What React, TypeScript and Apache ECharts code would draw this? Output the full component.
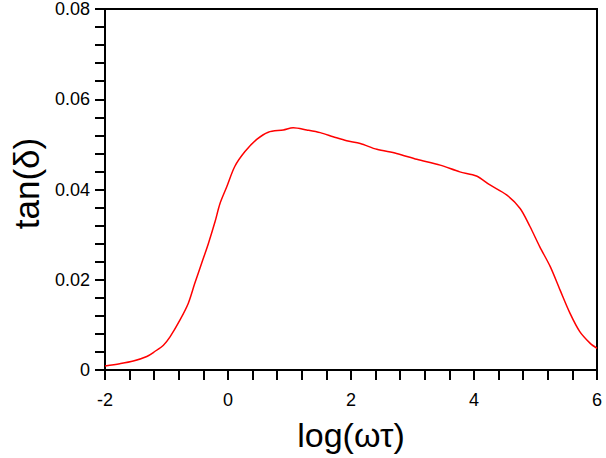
import React, { useEffect, useRef } from "react";
import * as echarts from "echarts";

const logOmegaTau = [
  -2, -1.76, -1.54, -1.32, -1.19, -1.05, -0.94, -0.78, -0.645, -0.54, -0.43, -0.32, -0.21, -0.13,
  -0.02, 0.11, 0.276, 0.467, 0.655, 0.9, 1.06, 1.28, 1.5, 1.71, 1.93, 2.15, 2.42, 2.74, 3.07, 3.45,
  3.77, 4.04, 4.26, 4.53, 4.75, 4.91, 5.07, 5.24, 5.4, 5.56, 5.72, 5.89, 6.0,
];
const tanDelta = [
  0.0009, 0.0014, 0.002, 0.003, 0.0041, 0.0055, 0.0074, 0.0111, 0.0148, 0.0192, 0.0236, 0.028, 0.0329,
  0.0369, 0.0406, 0.0451, 0.0484, 0.0511, 0.0527, 0.0532, 0.0537, 0.0532, 0.0526, 0.0517, 0.0508,
  0.0502, 0.0489, 0.048, 0.0467, 0.0454, 0.0439, 0.043, 0.041, 0.0388, 0.0358, 0.0318, 0.0273, 0.0229,
  0.0177, 0.0126, 0.0085, 0.0059, 0.0048,
];
const xTickRange = { min: -2, max: 6, interval: 2 };
const yTickRange = { min: 0, max: 0.08, interval: 0.02 };
const xName = "log(ωτ)";
const yName = "tan(δ)";

export default function App() {
  const ref = useRef<HTMLDivElement>(null);
  useEffect(() => {
    if (!ref.current) return;
    const chart = echarts.init(ref.current, undefined, { renderer: "svg" });
    const font = "'Liberation Sans', Arial, sans-serif";
    const axisCommon = {
      axisLine: { show: true, onZero: false, lineStyle: { color: "#000", width: 2 } },
      axisTick: { show: true, inside: false, length: 10, lineStyle: { color: "#000", width: 2 } },
      minorTick: { show: true, splitNumber: 5, length: 10, lineStyle: { color: "#000", width: 2 } },
      splitLine: { show: false },
      minorSplitLine: { show: false },
    };
    chart.setOption({
      animation: false,
      backgroundColor: "#fff",
      grid: {
        left: 105,
        right: 9,
        top: 9,
        bottom: 88,
        show: true,
        borderColor: "#000",
        borderWidth: 2,
        containLabel: false,
        outerBoundsMode: "none",
      },
      xAxis: {
        type: "value",
        ...xTickRange,
        name: xName,
        nameLocation: "middle",
        nameGap: 48,
        nameTextStyle: { fontFamily: font, fontSize: 34, color: "#000" },
        axisLabel: { margin: 21, fontFamily: font, fontSize: 18, color: "#000" },
        ...axisCommon,
      },
      yAxis: {
        type: "value",
        ...yTickRange,
        name: yName,
        nameLocation: "middle",
        nameGap: 58,
        nameTextStyle: { fontFamily: font, fontSize: 35, color: "#000", padding: [0, 0, 0, 12] },
        axisLabel: { margin: 15, fontFamily: font, fontSize: 18, color: "#000" },
        ...axisCommon,
      },
      series: [
        {
          type: "line",
          data: logOmegaTau.map((x, i) => [x, tanDelta[i]]),
          showSymbol: false,
          smooth: 0.3,
          lineStyle: { color: "#ff0000", width: 1.5 },
          itemStyle: { color: "#ff0000" },
        },
      ],
    });
    return () => chart.dispose();
  }, []);
  return <div ref={ref} style={{ position: "fixed", left: 0, top: 0, width: 606, height: 458 }} />;
}
